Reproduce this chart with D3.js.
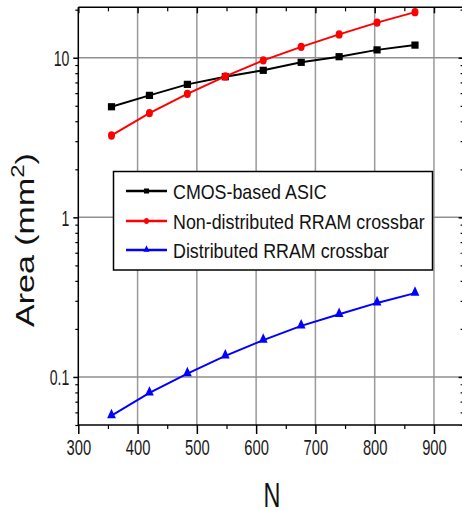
<!DOCTYPE html>
<html>
<head>
<meta charset="utf-8">
<script src="https://cdn.jsdelivr.net/npm/d3@7"></script>
<style>
  html, body { margin: 0; padding: 0; background: #fff; }
  svg { display: block; }
  text { font-family: "Liberation Sans", Arial, sans-serif; }
</style>
</head>
<body>
<svg id="chart" width="462" height="510"></svg>
<script>
// ---- data ----
const N = [356, 420, 484, 548, 612, 676, 740, 804, 868];
const cmosASIC = [4.93, 5.81, 6.81, 7.6, 8.34, 9.36, 10.15, 11.2, 12.0];
const nonDistRRAM = [3.26, 4.5, 5.94, 7.64, 9.63, 11.7, 14.0, 16.6, 19.3];
const distRRAM = [0.0573, 0.0794, 0.105, 0.1355, 0.170, 0.209, 0.247, 0.291, 0.335];
const seriesNames = ["CMOS-based ASIC", "Non-distributed RRAM crossbar", "Distributed RRAM crossbar"];
const xTicks = [300, 400, 500, 600, 700, 800, 900];
const xMinorTicks = [350, 450, 550, 650, 750, 850, 950];
const yTicks = [0.1, 1, 10];
const yTickLabels = ["0.1", "1", "10"];
const yMinorTicks = [0.05, 0.06, 0.07, 0.08, 0.09, 0.2, 0.3, 0.4, 0.5, 0.6, 0.7, 0.8, 0.9, 2, 3, 4, 5, 6, 7, 8, 9, 20];
const xLabel = "N";

// ---- layout ----
const L = 78.3, R = 463.6, T = 7.3, B = 425;
const svg = d3.select("#chart");
const x = d3.scaleLinear().domain([300, 950]).range([L, R]);
const y = d3.scaleLog().domain([0.05, 20.7]).range([B, T]);

// gridlines
const grid = svg.append("g");
grid.selectAll(".gx").data(xTicks.filter(d => d > 300)).join("line")
  .attr("x1", d => x(d)).attr("x2", d => x(d)).attr("y1", T).attr("y2", B)
  .attr("stroke", "#9a9a9a").attr("stroke-width", 1.5);
grid.selectAll(".gy").data(yTicks).join("line")
  .attr("x1", L).attr("x2", R).attr("y1", d => y(d)).attr("y2", d => y(d))
  .attr("stroke", "#8f8f8f").attr("stroke-width", 1.5);

// axes
const tickFont = 22;
// bottom
const gxB = svg.append("g").attr("transform", `translate(0,${B})`)
  .call(d3.axisBottom(x).tickValues(xTicks).tickSize(9).tickFormat(d3.format("d")));
gxB.select(".domain").attr("stroke-width", 1.5).attr("d", `M${L},0H${R}`);
gxB.selectAll(".tick line").attr("stroke-width", 1.5);
gxB.selectAll("text").attr("y", null).attr("dy", null)
  .attr("font-size", tickFont).attr("fill", "#1a1a1a")
  .attr("transform", "translate(0,30) scale(0.67,1)");
svg.append("g").attr("transform", `translate(0,${B})`)
  .call(d3.axisBottom(x).tickValues(xMinorTicks).tickSize(4).tickFormat(""))
  .call(g => g.select(".domain").remove())
  .selectAll(".tick line").attr("stroke-width", 1.2);

// top
svg.append("g").attr("transform", `translate(0,${T})`)
  .call(d3.axisBottom(x).tickValues(xTicks).tickSize(6).tickFormat(""))
  .call(g => g.select(".domain").attr("stroke-width", 1.5).attr("d", `M${L},0H${R}`))
  .selectAll(".tick line").attr("stroke-width", 1.5);
svg.append("g").attr("transform", `translate(0,${T})`)
  .call(d3.axisBottom(x).tickValues(xMinorTicks).tickSize(4).tickFormat(""))
  .call(g => g.select(".domain").remove())
  .selectAll(".tick line").attr("stroke-width", 1.2);

// left
const gyL = svg.append("g").attr("transform", `translate(${L},0)`)
  .call(d3.axisLeft(y).tickValues(yTicks).tickSize(5).tickFormat((d, i) => yTickLabels[i]));
gyL.select(".domain").attr("stroke-width", 1.5).attr("d", `M0,${T}V${B}`);
gyL.selectAll(".tick line").attr("stroke-width", 1.5);
gyL.selectAll("text").attr("x", null).attr("dy", "0.35em")
  .attr("font-size", tickFont).attr("fill", "#1a1a1a")
  .attr("transform", "translate(-9,0) scale(0.64,1)");
svg.append("g").attr("transform", `translate(${L},0)`)
  .call(d3.axisLeft(y).tickValues(yMinorTicks).tickSize(3).tickFormat(""))
  .call(g => g.select(".domain").remove())
  .selectAll(".tick line").attr("stroke-width", 1.2);

// right
svg.append("g").attr("transform", `translate(${R},0)`)
  .call(d3.axisRight(y).tickValues(yTicks).tickSize(-5).tickFormat(""))
  .call(g => g.select(".domain").attr("stroke-width", 1.5).attr("d", `M0,${T}V${B}`))
  .selectAll(".tick line").attr("stroke-width", 1.5);
svg.append("g").attr("transform", `translate(${R},0)`)
  .call(d3.axisRight(y).tickValues(yMinorTicks).tickSize(-3).tickFormat(""))
  .call(g => g.select(".domain").remove())
  .selectAll(".tick line").attr("stroke-width", 1.2);

// series
const series = [
  { name: seriesNames[0], values: cmosASIC, color: "#000000", marker: "square" },
  { name: seriesNames[1], values: nonDistRRAM, color: "#ff0000", marker: "circle" },
  { name: seriesNames[2], values: distRRAM, color: "#0000ff", marker: "triangle" }
];
const line = d3.line().x(d => x(d[0])).y(d => y(d[1]));

function drawMarker(g, type, color, big) {
  const k = big ? 1 : 0.7;
  if (type === "square") {
    g.append("rect").attr("x", -3.6 * k).attr("y", -3.6 * k)
      .attr("width", 7.2 * k).attr("height", 7.2 * k).attr("fill", color);
  } else if (type === "circle") {
    g.append("ellipse").attr("rx", 3.5 * k).attr("ry", 4.2 * k).attr("fill", color);
  } else {
    g.append("path").attr("d", d3.symbol(d3.symbolTriangle, 64)())
      .attr("transform", `translate(0,${-0.5 * k}) scale(${0.72 * k},${0.9 * k})`)
      .attr("fill", color);
  }
}

series.forEach(s => {
  const pts = N.map((n, i) => [n, s.values[i]]);
  svg.append("path").datum(pts).attr("d", line)
    .attr("fill", "none").attr("stroke", s.color).attr("stroke-width", 2);
  const mg = svg.append("g");
  pts.forEach(p => {
    const g = mg.append("g").attr("transform", `translate(${x(p[0])},${y(p[1])})`);
    drawMarker(g, s.marker, s.color, true);
  });
});

// legend
const lg = svg.append("g");
lg.append("rect").attr("x", 113.5).attr("y", 171.5).attr("width", 319).attr("height", 98.5)
  .attr("fill", "#fff").attr("stroke", "#000").attr("stroke-width", 1.5);
const rowY = [191, 221, 250];
series.forEach((s, i) => {
  const g = lg.append("g").attr("transform", `translate(0,${rowY[i]})`);
  g.append("line").attr("x1", 126).attr("x2", 167).attr("y1", 0).attr("y2", 0)
    .attr("stroke", s.color).attr("stroke-width", 2.5);
  const mg = g.append("g").attr("transform", "translate(146.5,0)");
  drawMarker(mg, s.marker, s.color, false);
  g.append("text").attr("transform", "translate(173,8.3) scale(0.85,1)")
    .attr("font-size", 21).attr("fill", "#111").text(s.name);
});

// axis titles
svg.append("text").attr("transform", `translate(${(L + R) / 2 + 1},506.5) scale(0.67,1)`)
  .attr("text-anchor", "middle").attr("font-size", 35).attr("fill", "#111").text(xLabel);

const yt = svg.append("text").attr("transform", "translate(33.5,240) scale(0.74,1) rotate(-90)")
  .attr("text-anchor", "middle").attr("font-size", 34).attr("fill", "#111");
yt.append("tspan").text("Area (mm");
yt.append("tspan").attr("font-size", 24).attr("dy", -13).text("2");
yt.append("tspan").attr("dy", 13).text(")");
</script>
</body>
</html>
